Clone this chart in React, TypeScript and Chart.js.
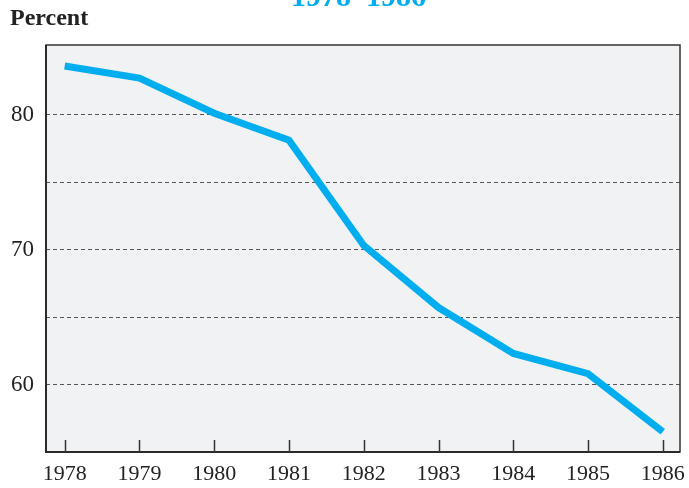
import React, { useEffect, useRef } from "react";
import { Chart, registerables } from "chart.js";

Chart.register(...registerables);

const years = [1978, 1979, 1980, 1981, 1982, 1983, 1984, 1985, 1986];
const percentValues = [83.6, 82.7, 80.1, 78.1, 70.3, 65.7, 62.3, 60.8, 56.5];
const yTickLabels = [60, 70, 80];
const yGridValues = [60, 65, 70, 75, 80];
const titleText = "1978–1986";
const yAxisTitle = "Percent";

const plotDecor = {
  id: "plotDecor",
  beforeDraw(chart: any) {
    const { ctx, chartArea: a } = chart;
    ctx.save();
    ctx.fillStyle = "#f1f2f4";
    ctx.fillRect(a.left, a.top, a.right - a.left, a.bottom - a.top);
    ctx.restore();
  },
  afterDraw(chart: any) {
    const { ctx, chartArea: a, scales } = chart;
    ctx.save();
    ctx.strokeStyle = "#333";
    ctx.lineWidth = 1.5;
    ctx.strokeRect(a.left, a.top, a.right - a.left, a.bottom - a.top);
    ctx.lineWidth = 2;
    ctx.strokeStyle = "#2a2a2a";
    ctx.beginPath();
    ctx.moveTo(a.left, a.top);
    ctx.lineTo(a.left, a.bottom);
    ctx.lineTo(a.right, a.bottom);
    ctx.stroke();
    ctx.lineWidth = 1.5;
    ctx.strokeStyle = "#333";
    for (const yr of years) {
      const x = Math.round(scales.x.getPixelForValue(yr)) + 0.5;
      ctx.beginPath();
      ctx.moveTo(x, a.bottom);
      ctx.lineTo(x, a.bottom - 12);
      ctx.stroke();
    }
    ctx.restore();
  },
};

export default function App() {
  const ref = useRef<HTMLCanvasElement>(null);
  useEffect(() => {
    const chart = new Chart(ref.current!, {
      type: "line",
      data: {
        datasets: [
          {
            data: years.map((y, i) => ({ x: y, y: percentValues[i] })),
            borderColor: "#00aeef",
            borderWidth: 7,
            pointRadius: 0,
            tension: 0,
            borderCapStyle: "butt",
            borderJoinStyle: "miter",
          },
        ],
      },
      options: {
        animation: false,
        responsive: false,
        maintainAspectRatio: false,
        layout: { padding: { top: 45, right: 9, left: 0, bottom: 0 } },
        plugins: { legend: { display: false }, tooltip: { enabled: false } },
        scales: {
          x: {
            type: "linear",
            min: 1977.75,
            max: 1986.23,
            afterFit: (s: any) => {
              s.height = 36;
              s.paddingLeft = 0;
              s.paddingRight = 0;
            },
            afterBuildTicks: (s: any) => { s.ticks = years.map((v) => ({ value: v })); },
            grid: { display: false, drawTicks: false },
            border: { display: false },
            ticks: {
              padding: 9,
              color: "#222",
              font: { family: "Liberation Serif", size: 22 },
              callback: (v: any) => String(v),
              maxRotation: 0,
              autoSkip: false,
            },
          },
          y: {
            min: 55,
            max: 85.15,
            afterFit: (s: any) => {
              s.width = 46;
              s.paddingTop = 0;
              s.paddingBottom = 0;
            },
            afterBuildTicks: (s: any) => { s.ticks = yGridValues.map((v) => ({ value: v })); },
            ticks: {
              padding: 12,
              color: "#222",
              font: { family: "Liberation Serif", size: 23 },
              callback: (v: any) => (yTickLabels.includes(Number(v)) ? String(v) : ""),
            },
            grid: {
              drawTicks: false,
              color: "#555",
              lineWidth: 1,
            },
            border: { display: false, dash: [4, 3] },
          },
        },
      },
      plugins: [plotDecor],
    });
    return () => chart.destroy();
  }, []);
  return (
    <div style={{ position: "fixed", left: 0, top: 0, width: 689, height: 488, overflow: "hidden", background: "#fff" }}>
      <canvas ref={ref} width={689} height={488} style={{ position: "absolute", left: 0, top: 0 }} />
      <div
        style={{
          position: "absolute",
          left: 291,
          top: -19,
          fontFamily: "Liberation Serif",
          fontWeight: "bold",
          fontSize: 30,
          color: "#00aeef",
          whiteSpace: "nowrap",
          lineHeight: "30px",
        }}
      >
        {titleText}
      </div>
      <div
        style={{
          position: "absolute",
          left: 10,
          top: 5,
          fontFamily: "Liberation Serif",
          fontWeight: "bold",
          fontSize: 24,
          color: "#222",
          lineHeight: "24px",
        }}
      >
        {yAxisTitle}
      </div>
    </div>
  );
}
